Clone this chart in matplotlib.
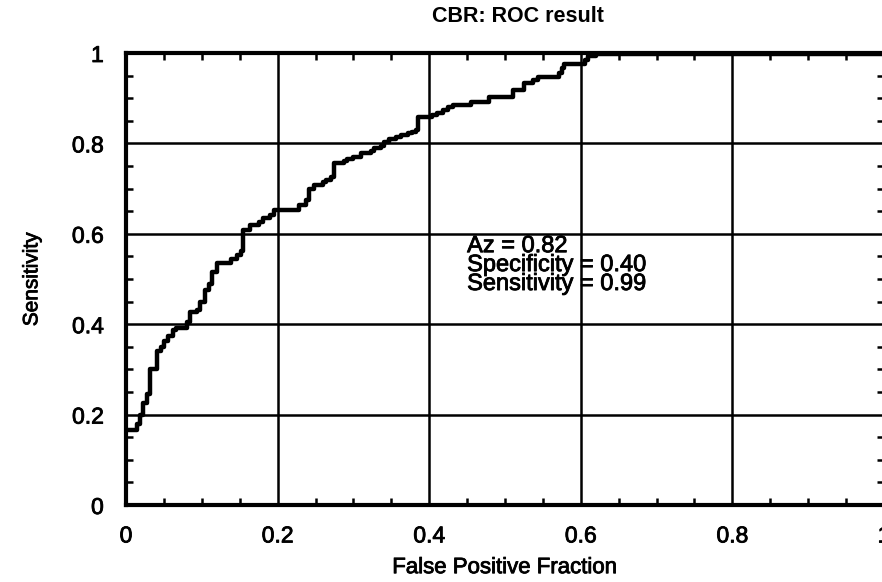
import numpy as np
import matplotlib
matplotlib.use("Agg")
import matplotlib.pyplot as plt
import matplotlib.patheffects as pe
from matplotlib.ticker import MultipleLocator

# ── Data (step corners: jump position, value after jump) ──
fpr = [0.000, 0.015, 0.018, 0.023, 0.028, 0.032, 0.041, 0.046, 0.050, 0.056,
       0.062, 0.066, 0.080, 0.085, 0.094, 0.098, 0.104, 0.110, 0.113, 0.120,
       0.138, 0.146, 0.152, 0.154, 0.163, 0.175, 0.181, 0.190, 0.195, 0.228,
       0.237, 0.241, 0.248, 0.260, 0.264, 0.270, 0.274, 0.287, 0.292, 0.299,
       0.310, 0.323, 0.327, 0.336, 0.340, 0.347, 0.356, 0.363, 0.372, 0.377,
       0.383, 0.385, 0.404, 0.410, 0.418, 0.425, 0.432, 0.455, 0.479, 0.511,
       0.525, 0.537, 0.543, 0.571, 0.575, 0.578, 0.606, 0.610, 0.620, 1.000]
tpr = [0.166, 0.180, 0.200, 0.225, 0.245, 0.300, 0.340, 0.350, 0.363, 0.374,
       0.387, 0.392, 0.405, 0.427, 0.432, 0.450, 0.476, 0.490, 0.515, 0.535,
       0.545, 0.553, 0.562, 0.608, 0.620, 0.626, 0.635, 0.642, 0.653, 0.664,
       0.675, 0.700, 0.708, 0.715, 0.720, 0.726, 0.757, 0.761, 0.766, 0.771,
       0.779, 0.784, 0.790, 0.794, 0.803, 0.810, 0.814, 0.819, 0.823, 0.826,
       0.830, 0.858, 0.862, 0.868, 0.875, 0.880, 0.884, 0.892, 0.903, 0.918,
       0.934, 0.940, 0.947, 0.955, 0.967, 0.975, 0.985, 0.993, 0.998, 1.000]

az = 0.82
specificity = 0.40
sensitivity = 0.99

plt.rcParams["font.family"] = ["Liberation Sans", "DejaVu Sans"]

# thin stroke to mimic the heavy, scanned look of the original lettering
heavy = [pe.withStroke(linewidth=0.6, foreground="black")]

fig = plt.figure(figsize=(8.82, 5.82), dpi=100)
ax = fig.add_axes([126 / 882, 1 - 505 / 582, (884 - 126) / 882, (505 - 53) / 582])

ax.step(fpr, tpr, where="post", color="black", lw=3.2, zorder=3)

ax.set_xlim(0, 1)
ax.set_ylim(0, 1)
ax.xaxis.set_major_locator(MultipleLocator(0.2))
ax.yaxis.set_major_locator(MultipleLocator(0.2))
ax.xaxis.set_minor_locator(MultipleLocator(0.05))
ax.yaxis.set_minor_locator(MultipleLocator(0.05))
ax.xaxis.set_major_formatter(plt.FuncFormatter(lambda v, p: f"{v:g}"))
ax.yaxis.set_major_formatter(plt.FuncFormatter(lambda v, p: f"{v:g}"))

ax.grid(True, which="major", color="black", lw=1.8)
ax.tick_params(which="both", direction="in", top=True, right=True, color="black")
ax.tick_params(which="major", length=0, labelsize=16.5)
ax.tick_params(axis="x", which="major", pad=14)
ax.tick_params(axis="y", which="major", pad=16)
ax.tick_params(which="minor", length=5, width=1.8)
for s in ax.spines.values():
    s.set_linewidth(3)
for lbl in ax.get_xticklabels() + ax.get_yticklabels():
    lbl.set_path_effects(heavy)

fig.text(518 / 882, 1 - 16 / 582, "CBR: ROC result", fontsize=15.5,
         fontweight="bold", ha="center", va="center")
ax.set_xlabel("False Positive Fraction", fontsize=16, labelpad=7,
              path_effects=heavy)
ax.set_ylabel("Sensitivity", fontsize=15, labelpad=22, path_effects=heavy)

ax.text(0.45, 0.597,
        f"Az = {az:.2f}\nSpecificity = {specificity:.2f}\nSensitivity = {sensitivity:.2f}",
        fontsize=17, va="top", ha="left", linespacing=0.82, zorder=4,
        path_effects=heavy)

fig.savefig("out.png", dpi=100)
